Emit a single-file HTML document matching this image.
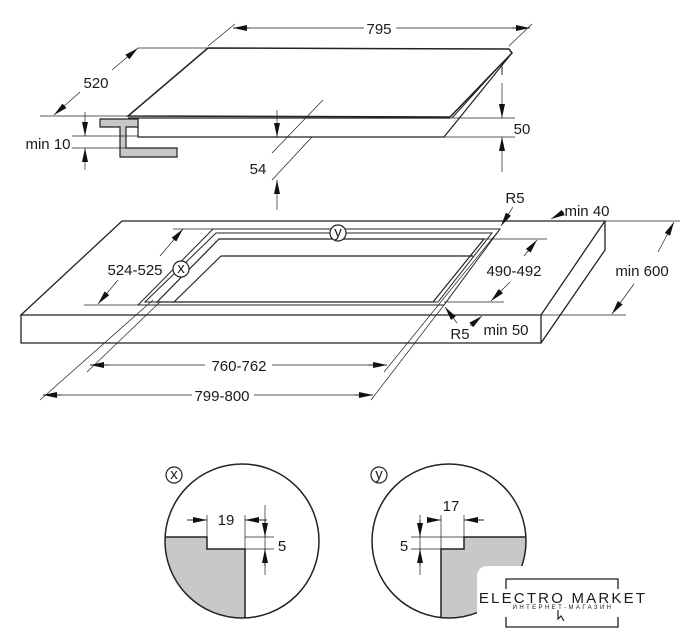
<!DOCTYPE html>
<html><head><meta charset="utf-8"><style>
html,body{margin:0;padding:0;background:#fff;}
svg{display:block;}
text{font-family:"Liberation Sans",sans-serif;fill:#1a1a1a;font-size:15px;}
</style></head><body>
<svg width="694" height="640" viewBox="0 0 694 640" xmlns="http://www.w3.org/2000/svg">
<defs>
<marker id="a" viewBox="0 0 14 6" refX="14" refY="3" markerWidth="14" markerHeight="6" markerUnits="userSpaceOnUse" orient="auto-start-reverse">
<path d="M0,0 L14,3 L0,6 z" fill="#111"/></marker>
</defs>
<g stroke="#222" fill="none" stroke-width="1">
<path d="M208,48 L509,49 L512,53 L450,117 L128,116 Z" fill="#fff" stroke-width="1.5"/>
<path d="M128,118 L450,118" stroke-width="1.2"/>
<path d="M512,53 L444,137 L138,137 L138,118" stroke-width="1.2"/>
<path d="M502,63 L452,118 M502,63 L502,75"/>
<path d="M100,119 L138,119 L138,127 L126,127 L126,148 L177,148 L177,157 L120,157 L120,127 L100,127 Z" fill="#c8c8c8" stroke-width="1.2"/>
<path d="M208,46 L235,24 M509,46 L532,24" stroke-width="0.7"/>
<path d="M233,28 L364,28 M396,28 L530,28" stroke-width="0.7"/>
<path d="M250,28 L233,28" marker-end="url(#a)"/><path d="M512,28 L530,28" marker-end="url(#a)"/>
<path d="M138,48 L208,48 M40,116 L128,116" stroke-width="0.7"/>
<path d="M54,115 L80,92 M112,70 L138,48" stroke-width="0.7" marker-start="url(#a)" marker-end="url(#a)"/>
<path d="M72,136 L138,136 M72,148 L126,148" stroke-width="0.7"/>
<path d="M85,112 L85,136" stroke-width="0.7" marker-end="url(#a)"/>
<path d="M85,170 L85,148" stroke-width="0.7" marker-end="url(#a)"/>
<path d="M272,153 L323,100 M272,180 L312,137" stroke-width="0.7"/>
<path d="M277,110 L277,137" stroke-width="0.7" marker-end="url(#a)"/>
<path d="M277,210 L277,180" stroke-width="0.7" marker-end="url(#a)"/>
<path d="M450,118 L515,118 M444,137 L515,137" stroke-width="0.7"/>
<path d="M502,83 L502,118" stroke-width="0.7" marker-end="url(#a)"/>
<path d="M502,172 L502,137" stroke-width="0.7" marker-end="url(#a)"/>

<path d="M122,221 L605,221 L541,315 L21,315 Z" fill="#fff" stroke-width="1.3"/>
<path d="M21,315 L21,343 L541,343 L541,315 M541,343 L605,250 L605,221" stroke-width="1.3"/>
<path d="M213,229 L500,229 L444,305 L138,305 Z" stroke-width="1"/>
<path d="M216,233 L492,233 L438,302 L145,302 Z" stroke-width="1"/>
<path d="M219,239 L484,239 L433,302 L157,302 Z" stroke-width="1.2"/>
<path d="M221,256 L473,256 M221,256 L174,302" stroke-width="1.2"/>
<path d="M153,300 L40,400 M160,302 L87,372 M444,305 L371,400 M500,229 L384,372" stroke-width="0.7"/>
<path d="M90,365 L205,365 M272,365 L387,365" stroke-width="0.7"/>
<path d="M109,365 L90,365" marker-end="url(#a)"/><path d="M368,365 L387,365" marker-end="url(#a)"/>
<path d="M43,395 L192,395 M254,395 L373,395" stroke-width="0.7"/>
<path d="M62,395 L43,395" marker-end="url(#a)"/><path d="M354,395 L373,395" marker-end="url(#a)"/>
<path d="M173,229 L213,229 M84,305 L138,305" stroke-width="0.7"/>
<path d="M98,304 L118,280 M160,256 L183,229" stroke-width="0.7" marker-start="url(#a)" marker-end="url(#a)"/>
<path d="M484,239 L547,239 M444,302 L504,302" stroke-width="0.7"/>
<path d="M491,301 L510,282 M524,256 L537,240" stroke-width="0.7" marker-start="url(#a)" marker-end="url(#a)"/>
<path d="M605,221 L680,221 M541,315 L626,315" stroke-width="0.7"/>
<path d="M612,314 L634,284 M658,252 L674,222" stroke-width="0.7" marker-start="url(#a)" marker-end="url(#a)"/>
<path d="M513,207 L501,226" stroke-width="0.7" marker-end="url(#a)"/>
<path d="M564,212 L551,219" stroke-width="0.7" marker-end="url(#a)"/>
<path d="M457,323 L445,307" stroke-width="0.7" marker-end="url(#a)"/>
<path d="M470,326 L482,316" stroke-width="0.7" marker-end="url(#a)"/>
<circle cx="181" cy="269" r="8" fill="#fff" stroke-width="1.2"/>
<circle cx="338" cy="233" r="8" fill="#fff" stroke-width="1.2"/>

<clipPath id="cx"><circle cx="242" cy="541" r="77"/></clipPath>
<path d="M160,537 L207,537 L207,549 L245,549 L245,625 L160,625 Z" fill="#c8c8c8" stroke="none" clip-path="url(#cx)"/>
<path d="M166,537 L207,537 L207,549 L245,549 L245,618" stroke-width="1.5"/>
<circle cx="242" cy="541" r="77" stroke-width="1.5"/>
<path d="M207,515 L207,537 M245,515 L245,549 M245,537 L274,537 M245,549 L274,549 M265,505 L265,575" stroke-width="0.7"/>
<path d="M187,520 L207,520" marker-end="url(#a)"/><path d="M267,520 L245,520" marker-end="url(#a)"/>
<path d="M265,520 L265,537" marker-end="url(#a)"/><path d="M265,566 L265,549" marker-end="url(#a)"/>
<circle cx="174" cy="475" r="8" stroke-width="1.2"/>
<clipPath id="cy"><circle cx="449" cy="541" r="77"/></clipPath>
<path d="M464,537 L530,537 L530,625 L441,625 L441,549 L464,549 Z" fill="#c8c8c8" stroke="none" clip-path="url(#cy)"/>
<path d="M525,537 L464,537 L464,549 L441,549 L441,618" stroke-width="1.5"/>
<circle cx="449" cy="541" r="77" stroke-width="1.5"/>
<path d="M441,515 L441,549 M464,515 L464,537 M411,537 L464,537 M411,549 L441,549 M420,515 L420,575" stroke-width="0.7"/>
<path d="M427,520 L441,520" marker-end="url(#a)"/><path d="M484,520 L464,520" marker-end="url(#a)"/>
<path d="M420,520 L420,537" marker-end="url(#a)"/><path d="M420,566 L420,549" marker-end="url(#a)"/>
<circle cx="379" cy="475" r="8" stroke-width="1.2"/>
<rect x="477" y="566" width="240" height="90" rx="10" fill="#fff" stroke="none"/>
<path d="M506,589 L506,579 L618,579 L618,589 M506,617 L506,627 L618,627 L618,617" stroke-width="1.3"/>
<path d="M558,610 L558,619 L561,616 L564,621" stroke-width="1.2"/>
</g>
<g text-anchor="middle">
<text x="379" y="34">795</text>
<text x="96" y="88">520</text>
<text x="48" y="149">min 10</text>
<text x="258" y="174">54</text>
<text x="522" y="134">50</text>
<text x="515" y="203">R5</text>
<text x="587" y="216">min 40</text>
<text x="135" y="275">524-525</text>
<text x="514" y="276">490-492</text>
<text x="642" y="276">min 600</text>
<text x="460" y="339">R5</text>
<text x="506" y="335">min 50</text>
<text x="239" y="371">760-762</text>
<text x="222" y="401">799-800</text>
<text x="181" y="273" font-size="11">x</text>
<text x="338" y="237" font-size="11">y</text>
<text x="174" y="479" font-size="11">x</text>
<text x="379" y="479" font-size="11">y</text>
<text x="226" y="525" font-size="17">19</text>
<text x="282" y="551" font-size="17">5</text>
<text x="451" y="511" font-size="17">17</text>
<text x="404" y="551" font-size="17">5</text>
<text x="563" y="603" font-size="12" letter-spacing="2.2">ELECTRO MARKET</text>
<text transform="translate(563,609) scale(0.4)" x="0" y="0" font-size="10" letter-spacing="6" fill="#555">ИНТЕРНЕТ-МАГАЗИН</text>
</g>
</svg>
</body></html>
